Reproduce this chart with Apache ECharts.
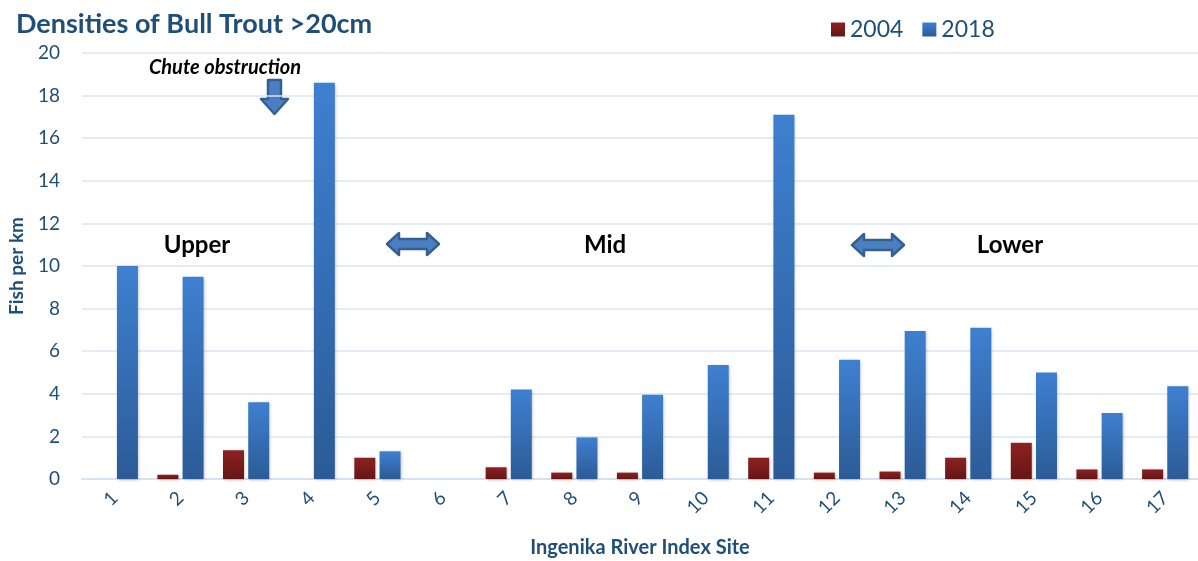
<!DOCTYPE html>
<html>
<head>
	<meta charset="UTF-8">
	<title>Densities of Bull Trout</title>
	<script src="https://cdn.jsdelivr.net/npm/echarts@6/dist/echarts.min.js"></script>
	<style>
		html, body { margin: 0; padding: 0; background: #fff; }
		#chart { width: 1198px; height: 561px; }
	</style>
</head>
<body>
	<div id="chart"></div>
	<script type="text/javascript">
		// 数据
		var sites = ['1', '2', '3', '4', '5', '6', '7', '8', '9', '10', '11', '12', '13', '14', '15', '16', '17'];
		var y2004 = [0, 0.2, 1.35, 0, 1.0, 0, 0.55, 0.3, 0.3, 0, 1.0, 0.3, 0.35, 1.0, 1.7, 0.45, 0.45];
		var y2018 = [10.0, 9.5, 3.6, 18.6, 1.3, 0, 4.2, 1.95, 3.95, 5.35, 17.1, 5.6, 6.95, 7.1, 5.0, 3.1, 4.35];
		var yTicks = [0, 2, 4, 6, 8, 10, 12, 14, 16, 18, 20];

		var navy = '#1f4e79';
		var font = 'Lato, "Liberation Sans", sans-serif';

		// 双向箭头
		function dblArrow(cx, cy) {
			return {
				type: 'polygon',
				shape: {
					points: [[cx - 26, cy], [cx - 14, cy - 11], [cx - 14, cy - 5], [cx + 14, cy - 5], [cx + 14, cy - 11],
						[cx + 26, cy], [cx + 14, cy + 11], [cx + 14, cy + 5], [cx - 14, cy + 5], [cx - 14, cy + 11]]
				},
				style: { fill: '#4a7fc1', stroke: '#365f91', lineWidth: 2.5, lineJoin: 'round' }
			};
		}

		var chart = echarts.init(document.getElementById('chart'));
		var option = {
			animation: false,
			title: {
				text: 'Densities of Bull Trout >20cm',
				left: 11,
				top: 6,
				textStyle: { color: navy, fontSize: 27, fontWeight: 'bold', fontFamily: font }
			},
			legend: {
				data: ['2004', '2018'],
				left: 826,
				top: 13,
				itemWidth: 14,
				itemHeight: 14,
				itemGap: 19,
				icon: 'rect',
				textStyle: { color: navy, fontSize: 23, fontFamily: font }
			},
			grid: { left: 82, right: 0, top: 53, bottom: 82, outerBoundsMode: 'none' },
			xAxis: {
				type: 'category',
				data: sites,
				name: 'Ingenika River Index Site',
				nameLocation: 'middle',
				nameGap: 59,
				nameTextStyle: { color: navy, fontSize: 20, fontWeight: 'bold', fontFamily: font },
				axisLine: { lineStyle: { color: '#d5e2f2', width: 2 } },
				axisTick: { show: false },
				axisLabel: { rotate: 45, color: navy, fontSize: 19, fontFamily: font, margin: 16 }
			},
			yAxis: {
				type: 'value',
				min: 0,
				max: 20,
				interval: 2,
				name: 'Fish per km',
				nameLocation: 'middle',
				nameGap: 56,
				nameTextStyle: { color: navy, fontSize: 19, fontWeight: 'bold', fontFamily: font },
				axisLine: { show: false },
				axisTick: { show: false },
				splitLine: { lineStyle: { color: '#d9e5f3', width: 1.5 } },
				axisLabel: {
					color: navy, fontSize: 19, fontFamily: font, margin: 22,
					formatter: function (v) { return yTicks.indexOf(v) >= 0 ? String(v) : ''; }
				}
			},
			series: [
				{
					name: '2004',
					type: 'bar',
					data: y2004,
					barWidth: 21,
					barGap: '20%',
					itemStyle: {
						color: new echarts.graphic.LinearGradient(0, 0, 0, 1, [
							{ offset: 0, color: '#8c2222' },
							{ offset: 1, color: '#661515' }
						]),
						shadowColor: 'rgba(0,0,0,0.25)', shadowBlur: 3, shadowOffsetX: 1, shadowOffsetY: 1
					}
				},
				{
					name: '2018',
					type: 'bar',
					data: y2018,
					barWidth: 21,
					itemStyle: {
						color: new echarts.graphic.LinearGradient(0, 0, 0, 1, [
							{ offset: 0, color: '#3e80d0' },
							{ offset: 1, color: '#2c5b97' }
						]),
						shadowColor: 'rgba(0,0,0,0.25)', shadowBlur: 3, shadowOffsetX: 1, shadowOffsetY: 1
					}
				}
			],
			graphic: [
				{
					type: 'text', x: 225, y: 68,
					style: { text: 'Chute obstruction', fill: '#000', font: 'italic bold 20px ' + font, textAlign: 'center', textVerticalAlign: 'middle' }
				},
				{
					type: 'polygon',
					shape: { points: [[268, 80], [281, 80], [281, 99], [288, 99], [274.5, 114], [261, 99], [268, 99]] },
					style: { fill: '#4a7fc1', stroke: '#365f91', lineWidth: 2.5, lineJoin: 'round' }
				},
				{
					type: 'text', x: 197, y: 245,
					style: { text: 'Upper', fill: '#000', font: 'bold 24px ' + font, textAlign: 'center', textVerticalAlign: 'middle' }
				},
				{
					type: 'text', x: 605, y: 245,
					style: { text: 'Mid', fill: '#000', font: 'bold 24px ' + font, textAlign: 'center', textVerticalAlign: 'middle' }
				},
				{
					type: 'text', x: 1010, y: 245,
					style: { text: 'Lower', fill: '#000', font: 'bold 24px ' + font, textAlign: 'center', textVerticalAlign: 'middle' }
				},
				dblArrow(413, 244),
				dblArrow(878, 245)
			]
		};
		chart.setOption(option);
	</script>
</body>
</html>
